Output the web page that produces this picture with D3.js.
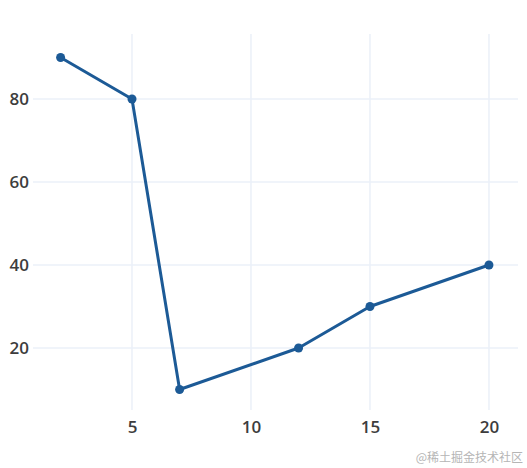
<!DOCTYPE html>
<html>
<head>
<meta charset="utf-8">
<script src="https://cdn.jsdelivr.net/npm/d3@7"></script>
<style>
    body { margin: 0; background: #fff; }
    svg { display: block; }
</style>
</head>
<body>
<svg id="mainSvg" width="527" height="468"></svg>
<script>
// data
let xValues = [2, 5, 7, 12, 15, 20];
let yValues = [90, 80, 10, 20, 30, 40];
let xTicks = [5, 10, 15, 20];
let yTicks = [20, 40, 60, 80];

let svg = d3.select("#mainSvg");

let plot = { left: 33, right: 518, top: 34, bottom: 410 };

let x = d3.scaleLinear().domain([0.84, 21.22]).range([plot.left, plot.right]);
let y = d3.scaleLinear().domain([5.06, 95.66]).range([plot.bottom, plot.top]);

// grid
let grid = svg.append("g");
grid.selectAll("line.vx")
    .data(xTicks)
    .join("line")
    .attr("class", "vx")
    .attr("x1", (d) => x(d))
    .attr("x2", (d) => x(d))
    .attr("y1", plot.top)
    .attr("y2", plot.bottom)
    .attr("stroke", "#ebf0f8")
    .attr("stroke-width", 1.5);

grid.selectAll("line.hy")
    .data(yTicks)
    .join("line")
    .attr("class", "hy")
    .attr("x1", plot.left)
    .attr("x2", plot.right)
    .attr("y1", (d) => y(d))
    .attr("y2", (d) => y(d))
    .attr("stroke", "#ebf0f8")
    .attr("stroke-width", 1.5);

// axes, labels only
let xAxis = svg.append("g")
    .attr("transform", `translate(0,${plot.bottom})`)
    .call(d3.axisBottom(x).tickValues(xTicks).tickSize(0).tickPadding(11));
let yAxis = svg.append("g")
    .attr("transform", `translate(${plot.left},0)`)
    .call(d3.axisLeft(y).tickValues(yTicks).tickSize(0).tickPadding(4));

[xAxis, yAxis].forEach(function (a) {
    a.select(".domain").remove();
    a.selectAll("text")
        .attr("fill", "#3d3d3d")
        .style("font-family", "'Open Sans', sans-serif")
        .style("font-size", "17px")
        .style("font-weight", "600");
});

// the line
let points = xValues.map((d, i) => ({ x: d, y: yValues[i] }));

let line = d3.line()
    .x((d) => x(d.x))
    .y((d) => y(d.y));

svg.append("g")
    .append("path")
    .datum(points)
    .attr("d", line)
    .attr("fill", "none")
    .attr("stroke", "#1c5a96")
    .attr("stroke-width", 3)
    .attr("stroke-linejoin", "round");

svg.append("g")
    .selectAll("circle")
    .data(points)
    .join("circle")
    .attr("cx", (d) => x(d.x))
    .attr("cy", (d) => y(d.y))
    .attr("r", 4.5)
    .attr("fill", "#1c5a96");

// watermark
svg.append("text")
    .attr("x", 523)
    .attr("y", 462)
    .attr("text-anchor", "end")
    .attr("fill", "#b5b5b5")
    .style("font-family", "'Noto Sans CJK SC', sans-serif")
    .style("font-size", "12px")
    .text("@稀土掘金技术社区");
</script>
</body>
</html>
